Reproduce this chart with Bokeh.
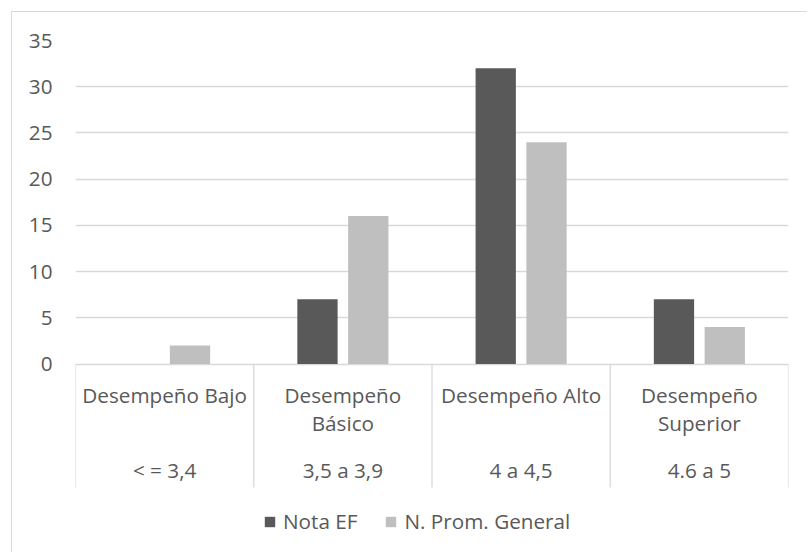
from bokeh.plotting import figure
from bokeh.models import Range1d, FixedTicker, Legend, LegendItem, ColumnDataSource
from bokeh.core.properties import value
from bokeh.embed import file_html
from bokeh.resources import INLINE

# ---- data ----
categories = ["Desempeño Bajo", "Desempeño\nBásico", "Desempeño Alto", "Desempeño\nSuperior"]
score_ranges = ["< = 3,4", "3,5 a 3,9", "4 a 4,5", "4.6 a 5"]
nota_ef = [0, 7, 32, 7]
prom_general = [2, 16, 24, 4]
y_ticks = [0, 5, 10, 15, 20, 25, 30, 35]
series_names = ["Nota EF", "N. Prom. General"]
series_colors = ["#595959", "#bfbfbf"]

FONT = "Open Sans"
FS = "20.7px"
TXT = "#595959"
GRID = "#d9d9d9"

n = len(categories)
centers = [i + 0.5 for i in range(n)]
offset = 0.1425
bar_w = 0.226

p = figure(width=796, height=541, output_backend="svg", toolbar_location=None,
           x_range=Range1d(0, n), y_range=Range1d(-20.5, 35),
           x_axis_location=None, min_border_left=63, min_border_right=20,
           min_border_top=28, min_border_bottom=0)
p.outline_line_color = None
p.styles = {"border-left": "1px solid #d9d9d9", "border-top": "1px solid #d9d9d9",
            "margin-left": "11px", "margin-top": "11px"}

# y axis
p.yaxis.ticker = FixedTicker(ticks=y_ticks)
p.yaxis.axis_line_color = None
p.yaxis.major_tick_line_color = None
p.yaxis.minor_tick_line_color = None
p.yaxis.major_tick_out = 0
p.yaxis.major_label_standoff = 23
p.yaxis.major_label_text_font = FONT
p.yaxis.major_label_text_font_size = FS
p.yaxis.major_label_text_color = TXT
p.ygrid.ticker = FixedTicker(ticks=y_ticks)
p.ygrid.grid_line_color = GRID
p.ygrid.grid_line_width = 1.3
p.xgrid.grid_line_color = None

# bars
src = ColumnDataSource(dict(
    x1=[c - offset for c in centers], x2=[c + offset for c in centers],
    a=nota_ef, b=prom_general))
r1 = p.vbar(x="x1", top="a", width=bar_w, bottom=0, source=src,
            fill_color=series_colors[0], line_color=None)
r2 = p.vbar(x="x2", top="b", width=bar_w, bottom=0, source=src,
            fill_color=series_colors[1], line_color=None)

# category axis table
sep_x = list(range(n + 1))
p.segment(x0=sep_x, x1=sep_x, y0=[0] * len(sep_x), y1=[-13.36] * len(sep_x),
          line_color=GRID, line_width=1.3)

line1 = [c.split("\n")[0] for c in categories]
line2 = [c.split("\n")[1] if "\n" in c else "" for c in categories]
common = dict(text_font=value(FONT), text_font_size=FS, text_color=TXT,
              text_align="center", text_baseline="alphabetic")
p.text(x=centers, y=[-3.33] * n, text=line1, **common)
p.text(x=centers, y=[-6.40] * n, text=line2, **common)
p.text(x=centers, y=[-11.44] * n, text=score_ranges, **common)

legend = Legend(items=[LegendItem(label=series_names[0], renderers=[r1]),
                       LegendItem(label=series_names[1], renderers=[r2])],
                orientation="horizontal", location=(188, 18))
legend.margin = 0
legend.padding = 0
legend.border_line_color = None
legend.background_fill_alpha = 0
legend.glyph_width = 13
legend.glyph_height = 13
legend.label_standoff = 7
legend.spacing = 27
legend.label_text_font = FONT
legend.label_text_font_size = FS
legend.label_text_color = TXT
p.add_layout(legend, "center")

open("out.html", "w").write(file_html(p, INLINE))
